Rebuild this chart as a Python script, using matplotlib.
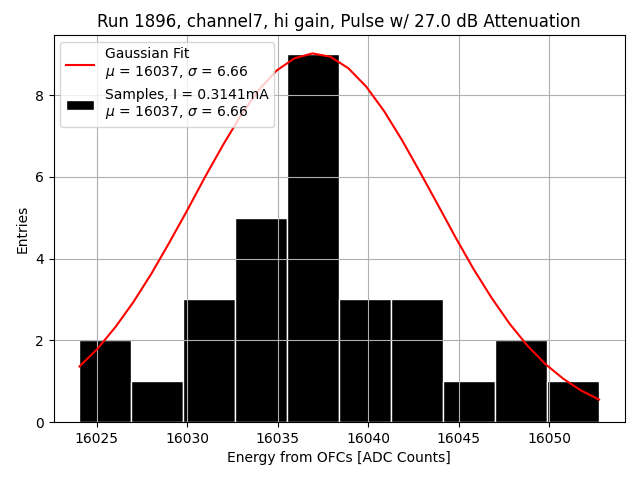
import numpy as np
import matplotlib.pyplot as plt

# histogram of samples (10 bins)
bin_lo = 16024.04
bin_hi = 16052.77
counts = [2, 1, 3, 5, 9, 3, 3, 1, 2, 1]

# gaussian fit curve
fit_x_lo = 16024.04
fit_x_hi = 16052.77
fit_y = [1.36, 1.79, 2.32, 2.93, 3.62, 4.38, 5.17, 5.99, 6.77, 7.50,
         8.12, 8.60, 8.90, 9.02, 8.94, 8.66, 8.21, 7.61, 6.90, 6.12,
         5.32, 4.51, 3.74, 3.04, 2.41, 1.87, 1.42, 1.06, 0.77, 0.55]

mu = 16037
sigma = 6.66
current = "0.3141mA"

edges = np.linspace(bin_lo, bin_hi, len(counts) + 1)
width = edges[1] - edges[0]
fx = np.linspace(fit_x_lo, fit_x_hi, len(fit_y))

fig, ax = plt.subplots(figsize=(6.4, 4.8), dpi=100)
ax.plot(fx, fit_y, color='red',
        label='Gaussian Fit\n$\\mu$ = %d, $\\sigma$ = %.2f' % (mu, sigma))
ax.bar(edges[:-1], counts, width=width, align='edge', color='black',
       edgecolor='white', linewidth=1,
       label='Samples, I = %s\n$\\mu$ = %d, $\\sigma$ = %.2f' % (current, mu, sigma))
ax.grid(True)
ax.legend(loc='upper left')
ax.set_title('Run 1896, channel7, hi gain, Pulse w/ 27.0 dB Attenuation')
ax.set_xlabel('Energy from OFCs [ADC Counts]')
ax.set_ylabel('Entries')
fig.subplots_adjust(left=0.0836, right=0.9766, top=0.9271, bottom=0.1208)
fig.savefig('out.png')
